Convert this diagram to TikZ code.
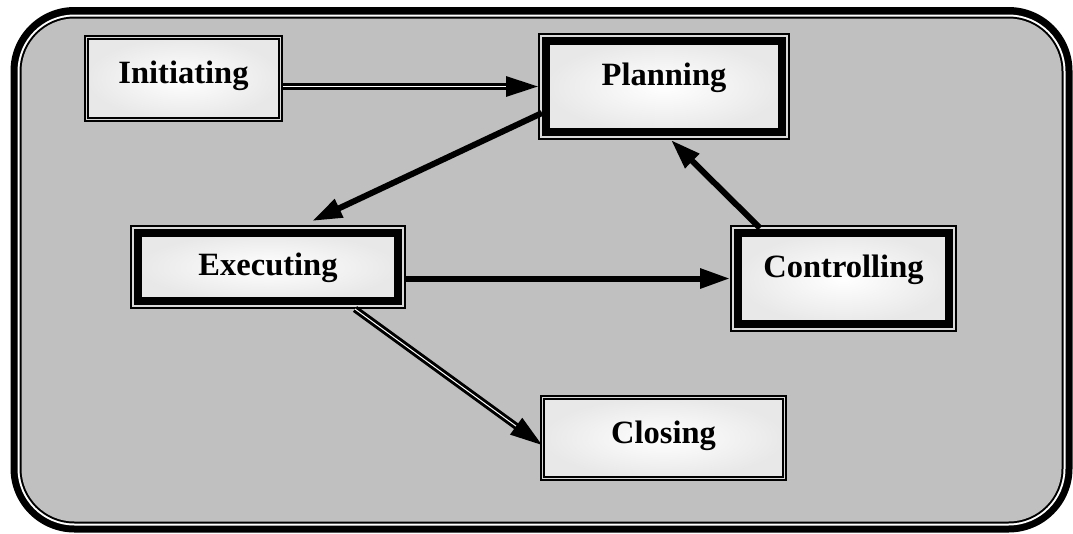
\documentclass[tikz,border=0pt]{standalone}
\usepackage{fontspec}
\setmainfont{Liberation Serif}
\usetikzlibrary{arrows.meta,calc}
\definecolor{bg}{HTML}{C0C0C0}
\definecolor{gapc}{HTML}{DADADA}
\begin{document}
\begin{tikzpicture}[x=1pt,y=-1pt,
  boxfont/.style={font=\fontsize{32.5}{38}\selectfont\bfseries, text height=22pt},
  shadefill/.style={inner color=white, outer color=black!9},
  thinbox/.style={boxfont, shadefill, draw=black, line width=1.6pt, double=gapc,
    double distance=1.8pt, inner sep=0pt, outer sep=2.5pt},
  thickbox/.style={boxfont, shadefill, draw=black, line width=8pt, inner sep=0pt, outer sep=8pt,
    preaction={draw=black, line width=16pt},
    preaction={draw=gapc, line width=12pt}},
  thickarrow/.style={draw=black, line width=6pt, -{Triangle[length=30pt,width=19pt]}},
  dblarrow/.style={draw=black, line width=3pt, double=white, double distance=1pt,
    -{Triangle[length=32pt,width=20pt]}}]
\useasboundingbox (0,0) rectangle (1073,533);
\fill[white] (0,0) rectangle (1073,533);
% outer frame
\fill[black, rounded corners=64pt] (10.5,7) rectangle (1072.5,532.5);
\fill[white, rounded corners=57pt] (17.5,14.5) rectangle (1065.5,525.5);
\fill[black, rounded corners=55pt] (19.5,16.5) rectangle (1063.5,523.5);
\fill[bg, rounded corners=53pt] (21.5,18.5) rectangle (1061.5,521.5);
% boxes
\node[thinbox, minimum width=194pt, minimum height=82pt, text depth=13pt] (ini) at (183.5,78.5) {Initiating};
\node[thickbox, minimum width=236pt, minimum height=91pt, text depth=25pt] (pla) at (664,86.5) {Planning};
\node[thickbox, minimum width=260pt, minimum height=68pt, text depth=5pt] (exe) at (268,267) {Executing};
\node[thickbox, minimum width=211pt, minimum height=91pt, text depth=25pt] (ctl) at (843.5,278.5) {Controlling};
\node[thinbox, minimum width=242pt, minimum height=81pt, text depth=12pt] (clo) at (663.5,438) {Closing};
% connectors
\draw[dblarrow] (ini.east |- pla.west) -- (pla.west);
\draw[thickarrow] ($(pla.south west)+(4,-27)$) -- ($(exe.north)+(44,-4)$);
\draw[thickarrow] ($(ctl.north west)+(30,3)$) -- ($(pla.south)+(7,0)$);
\draw[thickarrow] (exe.east |- ctl.west) -- (ctl.west);
\draw[dblarrow] ($(exe.south)+(87,0)$) -- ($(clo.west)+(2,7)$);
\end{tikzpicture}
\end{document}
